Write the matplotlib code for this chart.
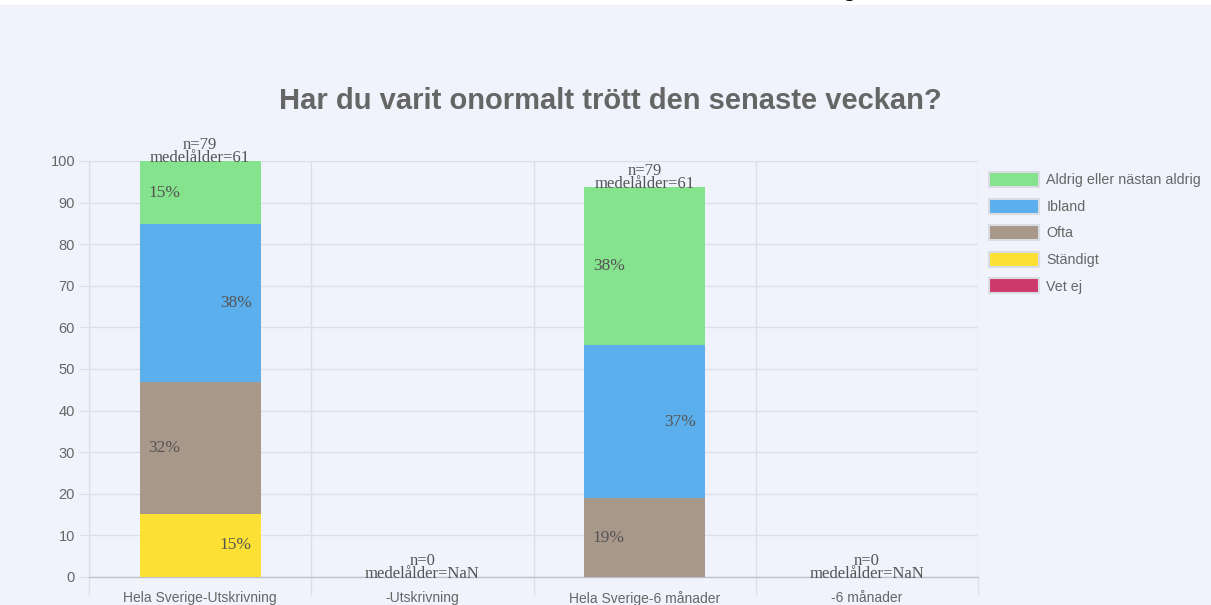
import matplotlib
matplotlib.use("Agg")
import matplotlib.pyplot as plt
import matplotlib.patches as mpatches
import numpy as np

BG = "#F0F3FC"
GRID = "#DCDEE8"
TEXT = "#666666"
LABEL = "#555555"

categories = ["Hela Sverige-Utskrivning", "-Utskrivning", "Hela Sverige-6 månader", "-6 månader"]
series_names = ["Aldrig eller nästan aldrig", "Ibland", "Ofta", "Ständigt", "Vet ej"]
colors = ["#85E28D", "#5BAFEC", "#A8988A", "#FDE034", "#CE396B"]

# percent of respondents per category (stacked bottom to top: Vet ej, Ständigt, Ofta, Ibland, Aldrig)
aldrig = [15.19, 0, 37.97, 0]
ibland = [37.97, 0, 36.71, 0]
ofta = [31.65, 0, 18.99, 0]
standigt = [15.19, 0, 0, 0]
vet_ej = [0, 0, 0, 0]
n_values = [79, 0, 79, 0]
mean_age = ["61", "NaN", "61", "NaN"]

values = [aldrig, ibland, ofta, standigt, vet_ej]

fig = plt.figure(figsize=(12.11, 6.05), dpi=100)
fig.patch.set_facecolor(BG)
fig.patches.append(mpatches.Rectangle((0, 1 - 5 / 605), 1, 5 / 605, transform=fig.transFigure,
                                      facecolor="white", edgecolor="none", zorder=0))
# descender of a heading cut off above the picture
fig.text(850 / 1211, 1 + 5 / 605, "g", fontsize=20, color="black", ha="center",
         va="baseline", family="Liberation Sans")

ax = fig.add_axes([89 / 1211, 1 - 577 / 605, (978 - 89) / 1211, (577 - 161) / 605])
ax.set_facecolor(BG)
x = np.arange(len(categories))
width = 0.545

bottom = np.zeros(len(categories))
# draw from the bottom of the stack upward
for idx in range(len(values) - 1, -1, -1):
    vals = np.array(values[idx])
    ax.bar(x, vals, width, bottom=bottom, color=colors[idx], zorder=3)
    for xi, v, b in zip(x, vals, bottom):
        if v <= 0:
            continue
        pct = f"{v:.0f}%"
        if idx % 2 == 0:
            ax.text(xi - width / 2 + 0.04, b + v / 2, pct, ha="left", va="center",
                    fontsize=12.5, family="Liberation Serif", color=LABEL, zorder=4)
        else:
            ax.text(xi + width / 2 - 0.04, b + v / 2, pct, ha="right", va="center",
                    fontsize=12.5, family="Liberation Serif", color=LABEL, zorder=4)
    bottom += vals

for xi, tot, n, age in zip(x, bottom, n_values, mean_age):
    ax.annotate(f"n={n}", (xi, tot), xytext=(0, 11.5), textcoords="offset points",
                ha="center", va="center", fontsize=12, family="Liberation Serif",
                color=LABEL, annotation_clip=False)
    ax.annotate(f"medelålder={age}", (xi, tot), xytext=(0, 2.5), textcoords="offset points",
                ha="center", va="center", fontsize=12, family="Liberation Serif",
                color=LABEL, annotation_clip=False)

ax.set_xlim(-0.5, len(categories) - 0.5)
ax.set_ylim(0, 100)
ax.set_yticks(range(0, 101, 10))
ax.set_xticks(x)
ax.set_xticklabels(categories, fontsize=10, family="Liberation Sans", color=TEXT)
ax.set_xticks(np.arange(-0.5, len(categories), 1), minor=True)
ax.tick_params(axis="x", which="major", length=0, pad=10)
ax.tick_params(axis="x", which="minor", length=13, color=GRID, width=1)
ax.tick_params(axis="y", length=7, color=GRID, labelsize=10.5, labelcolor=TEXT, pad=3)
for lab in ax.get_yticklabels():
    lab.set_family("Liberation Sans")
ax.yaxis.grid(True, color=GRID, linewidth=1, zorder=0)
ax.xaxis.grid(True, which="minor", color=GRID, linewidth=1, zorder=0)
ax.set_axisbelow(True)
for name, sp in ax.spines.items():
    if name in ("top", "right"):
        sp.set_visible(False)
    else:
        sp.set_color("#BFC2CC")
        sp.set_linewidth(1)
ax.spines["left"].set_color(GRID)

fig.text(610 / 1211, 1 - 101 / 605, "Har du varit onormalt trött den senaste veckan?",
         ha="center", va="center", fontsize=21, fontweight="bold", color=TEXT,
         family="Liberation Sans")

handles = [mpatches.Patch(facecolor=c, edgecolor="#DADCE4", linewidth=1.5) for c in colors]
fig.legend(handles, series_names, loc="upper left", bbox_to_anchor=(989 / 1211, 1 - 172 / 605),
           frameon=False, labelcolor=TEXT, handlelength=3.5, handleheight=1.25,
           labelspacing=0.78, handletextpad=0.5, borderaxespad=0, borderpad=0,
           prop={"family": "Liberation Sans", "size": 10.3})

fig.savefig("out.png", dpi=100, facecolor=BG)
